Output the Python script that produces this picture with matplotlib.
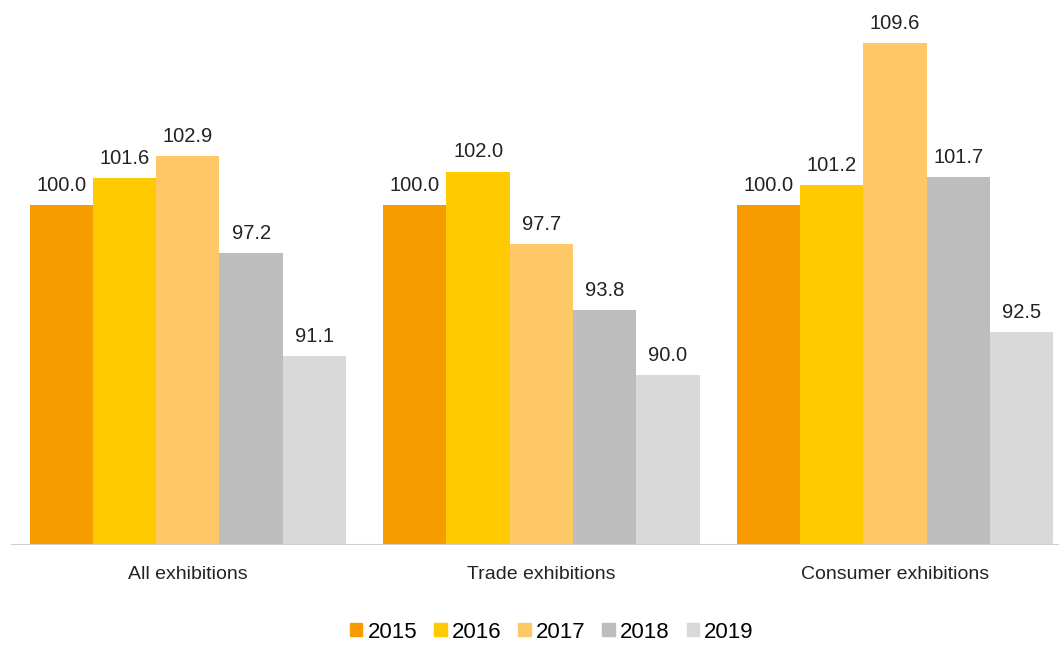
import numpy as np
import matplotlib.pyplot as plt
from matplotlib.patches import Patch

plt.rcParams['font.family'] = ['Liberation Sans', 'DejaVu Sans']

# data
categories = ['All exhibitions', 'Trade exhibitions', 'Consumer exhibitions']
years = ['2015', '2016', '2017', '2018', '2019']
values = {
    '2015': [100.0, 100.0, 100.0],
    '2016': [101.6, 102.0, 101.2],
    '2017': [102.9, 97.7, 109.6],
    '2018': [97.2, 93.8, 101.7],
    '2019': [91.1, 90.0, 92.5],
}
colors = ['#F89B00', '#FFCA00', '#FDC865', '#BDBDBD', '#D9D9D9']

fig = plt.figure(figsize=(10.59, 6.45), dpi=100)
ax = fig.add_axes([11 / 1059, 101 / 645, 1 - 11 / 1059, (645 - 4 - 101) / 645])

x = np.arange(len(categories))
w = 0.179
for i, yr in enumerate(years):
    pos = x + (i - 2) * w
    ax.bar(pos, np.array(values[yr]) - 80, bottom=80, width=w,
           color=colors[i], label=yr)
    for xp, v in zip(pos, values[yr]):
        ax.text(xp, v + 0.6, f'{v:.1f}', ha='center', va='bottom',
                fontsize=14.5, color='#222222')

ax.set_ylim(80, 111.9)
ax.set_xlim(-0.5, 2.464)
ax.set_xticks(x)
ax.set_xticklabels(categories, fontsize=14, color='#222222')
ax.tick_params(axis='x', length=0, pad=16)
ax.set_yticks([])
for s in ['top', 'right', 'left']:
    ax.spines[s].set_visible(False)
ax.spines['bottom'].set_color('#D0D0D0')

handles = [Patch(color=c, label=y) for c, y in zip(colors, years)]
fig.legend(handles=handles, loc='center', bbox_to_anchor=(552 / 1059, 1 - 632 / 645),
           ncol=5, frameon=False, fontsize=16, handlelength=0.55, handleheight=0.55,
           handletextpad=0.25, columnspacing=0.75)

fig.savefig('out.png', dpi=100)
